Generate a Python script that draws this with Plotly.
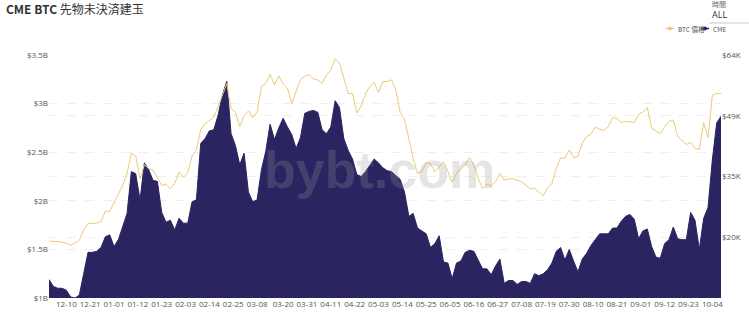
import pandas as pd
import plotly.graph_objects as go

# ---- data (one value every 2 days) ----
start_date = "2020-12-02"
cme_oi_b = [
    1.19, 1.12, 1.10, 1.10, 1.08, 1.01, 1.00, 1.03, 1.25, 1.47,
    1.47, 1.48, 1.52, 1.63, 1.65, 1.53, 1.60, 1.73, 1.87, 2.30,
    2.28, 2.01, 2.39, 2.32, 2.21, 2.20, 1.88, 1.78, 1.80, 1.70,
    1.82, 1.77, 1.77, 1.99, 2.01, 2.59, 2.64, 2.72, 2.73, 2.88,
    3.09, 3.23, 2.69, 2.57, 2.37, 2.49, 2.09, 1.99, 2.01, 2.32,
    2.51, 2.79, 2.63, 2.75, 2.85, 2.76, 2.68, 2.54, 2.65, 2.90,
    2.92, 2.93, 2.91, 2.73, 2.69, 2.76, 3.03, 2.96, 2.64, 2.52,
    2.43, 2.27, 2.25, 2.30, 2.37, 2.43, 2.39, 2.34, 2.31, 2.30,
    2.26, 2.22, 2.09, 1.84, 1.87, 1.72, 1.69, 1.66, 1.52, 1.56,
    1.64, 1.37, 1.36, 1.20, 1.36, 1.38, 1.47, 1.49, 1.48, 1.39,
    1.30, 1.30, 1.24, 1.33, 1.40, 1.15, 1.18, 1.18, 1.14, 1.17,
    1.17, 1.15, 1.25, 1.23, 1.25, 1.29, 1.36, 1.48, 1.52, 1.39,
    1.50, 1.38, 1.27, 1.40, 1.46, 1.54, 1.60, 1.66, 1.66, 1.66,
    1.72, 1.72, 1.79, 1.84, 1.86, 1.81, 1.61, 1.69, 1.71, 1.53,
    1.42, 1.41, 1.56, 1.60, 1.73, 1.61, 1.60, 1.60, 1.88, 1.80,
    1.50, 1.82, 1.93, 2.42, 2.80, 2.87,
]
btc_price_k = [
    19.1, 19.0, 18.85, 18.85, 18.5, 18.05, 18.6, 19.3, 21.75, 23.3,
    23.3, 23.4, 23.8, 26.3, 26.2, 28.4, 30.4, 32.5, 35.4, 40.4,
    39.6, 34.1, 37.5, 36.6, 36.2, 34.2, 32.5, 32.8, 31.7, 33.0,
    35.7, 34.4, 35.6, 39.6, 41.1, 46.0, 47.4, 48.2, 49.0, 51.5,
    54.4, 57.1, 51.1, 50.2, 46.7, 49.3, 50.5, 48.9, 50.3, 56.4,
    57.1, 59.3, 56.8, 59.0, 57.0, 56.0, 52.3, 55.2, 58.1, 58.9,
    59.3, 58.2, 58.0, 57.1, 59.2, 60.3, 63.1, 62.1, 58.4, 54.7,
    54.7, 50.0, 51.7, 54.6, 56.4, 57.4, 54.9, 57.6, 57.6, 58.0,
    55.5, 50.1, 48.5, 43.5, 39.0, 35.4, 35.9, 38.0, 37.7, 35.8,
    37.1, 38.2, 35.9, 33.3, 35.4, 36.4, 37.5, 39.3, 37.4, 34.2,
    31.7, 32.8, 32.4, 33.4, 35.4, 33.8, 34.1, 34.1, 33.7, 33.4,
    32.5, 31.7, 31.8, 30.8, 30.0, 32.0, 32.9, 36.6, 39.2, 39.1,
    41.1, 39.2, 39.5, 42.7, 44.3, 44.9, 46.6, 46.1, 45.8, 46.7,
    48.9, 48.7, 47.7, 48.0, 47.9, 47.7, 49.7, 50.2, 51.3, 46.3,
    45.7, 45.0, 46.7, 48.0, 48.3, 44.3, 43.4, 42.4, 42.9, 41.5,
    41.2, 47.7, 44.0, 54.3, 54.7, 54.7,
]
x_tick_dates = [
    "2020-12-10", "2020-12-21", "2021-01-01", "2021-01-12", "2021-01-23",
    "2021-02-03", "2021-02-14", "2021-02-25", "2021-03-08", "2021-03-20",
    "2021-03-31", "2021-04-11", "2021-04-22", "2021-05-03", "2021-05-14",
    "2021-05-25", "2021-06-05", "2021-06-16", "2021-06-27", "2021-07-08",
    "2021-07-19", "2021-07-30", "2021-08-10", "2021-08-21", "2021-09-01",
    "2021-09-12", "2021-09-23", "2021-10-04",
]
left_ticks = [1, 1.5, 2, 2.5, 3, 3.5]
left_tick_text = ["$1B", "$1.5B", "$2B", "$2.5B", "$3B", "$3.5B"]
right_ticks = [20.0, 34.667, 49.333, 64.0]
right_tick_text = ["$20K", "$35K", "$49K", "$64K"]
legend_names = ["BTC 價格", "CME"]

dates = pd.date_range(start_date, periods=len(cme_oi_b), freq="2D")

NAVY = "#2a2561"
GOLD = "#eccb74"
FONT = "Open Sans, Noto Sans CJK JP, sans-serif"
CJK = "Noto Sans CJK JP, sans-serif"

fig = go.Figure()
fig.add_trace(go.Scatter(
    x=dates, y=cme_oi_b, mode="lines", line=dict(color=NAVY, width=1),
    fill="tozeroy", fillcolor=NAVY, showlegend=False, hoverinfo="skip"))
fig.add_trace(go.Scatter(
    x=dates, y=btc_price_k, mode="lines", line=dict(color=GOLD, width=1),
    yaxis="y2", showlegend=False, hoverinfo="skip"))

W, H = 749, 315
L, R, T, B = 49, 28, 55, 17
pw, ph = W - L - R, H - T - B

def px(x):
    return (x - L) / pw

def py(y):
    return (H - B - y) / ph

fig.update_layout(
    width=W, height=H,
    margin=dict(l=L, r=R, t=T, b=B, pad=0),
    paper_bgcolor="white", plot_bgcolor="white",
    font=dict(family=FONT, size=8, color="#555"),
    showlegend=False,
    xaxis=dict(
        type="date", range=[dates[0], dates[-1]], automargin=False,
        tickvals=x_tick_dates, ticktext=[d[5:] for d in x_tick_dates],
        showgrid=False, zeroline=False, showline=False, ticks="",
        tickfont=dict(size=8, color="#555"),
    ),
    yaxis=dict(
        range=[1, 3.5], tickvals=left_ticks, ticktext=left_tick_text,
        automargin=False,
        showgrid=True, gridcolor="#efefef", griddash="dash", gridwidth=1,
        zeroline=False, showline=False, ticks="",
        tickfont=dict(size=8, color="#555"),
    ),
    yaxis2=dict(
        overlaying="y", side="right", range=[5.333, 64.0], automargin=False,
        tickvals=right_ticks, ticktext=right_tick_text,
        showgrid=True, gridcolor="#efefef", griddash="dash", gridwidth=1,
        zeroline=False, showline=False, ticks="",
        tickfont=dict(size=8, color="#555"),
    ),
)

# hand-drawn legend (short line + dot, then label)
legend_colors = [GOLD, NAVY]
legend_x = [666, 701]
ly = py(28.5)
for name, col, lx in zip(legend_names, legend_colors, legend_x):
    fig.add_shape(type="line", xref="paper", yref="paper", x0=px(lx), x1=px(lx + 8),
                  y0=ly, y1=ly, line=dict(color=col, width=1.5))
    fig.add_shape(type="circle", xref="paper", yref="paper",
                  x0=px(lx + 2), x1=px(lx + 6), y0=ly - 2 / ph, y1=ly + 2 / ph,
                  fillcolor=col, line=dict(color=col, width=0))
    fig.add_annotation(xref="paper", yref="paper", x=px(lx + 10), y=ly, xanchor="left",
                       yanchor="middle", showarrow=False, text=name,
                       font=dict(family=CJK, size=6.5, color="#555"))

# title
fig.add_annotation(xref="paper", yref="paper", x=px(4), y=py(9), xanchor="left",
                   yanchor="middle", showarrow=False,
                   text="<b>CME BTC</b> 先物未決済建玉",
                   font=dict(family=CJK, size=12, color="#333"))
# time selector (top-right)
fig.add_annotation(xref="paper", yref="paper", x=px(719), y=py(4), xanchor="center",
                   yanchor="middle", showarrow=False, text="時間",
                   font=dict(family=CJK, size=7, color="#666"))
fig.add_annotation(xref="paper", yref="paper", x=px(719), y=py(14.5), xanchor="center",
                   yanchor="middle", showarrow=False, text="ALL",
                   font=dict(family=FONT, size=9, color="#333"))
fig.add_shape(type="line", xref="paper", yref="paper", x0=px(709), x1=px(749),
              y0=py(23), y1=py(23), line=dict(color="#c8c8c8", width=1))
# watermark
fig.add_annotation(xref="paper", yref="paper", x=px(379), y=py(170), xanchor="center",
                   yanchor="middle", showarrow=False, text="<b>bybt.com</b>",
                   font=dict(family="Liberation Sans, Arial, sans-serif", size=52,
                             color="rgba(150,150,150,0.25)"))

fig.write_html("out.html")
